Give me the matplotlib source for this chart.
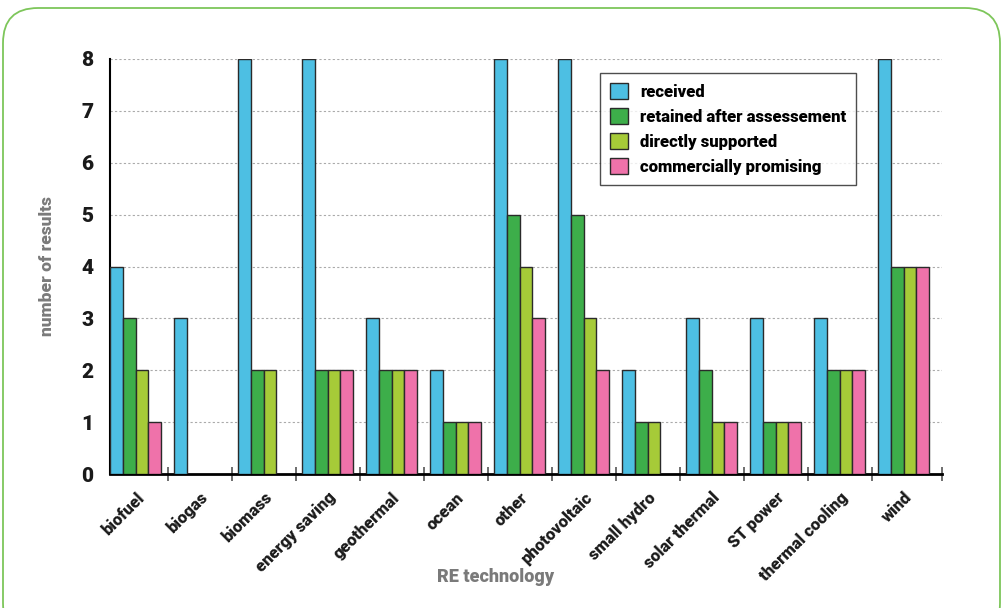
import matplotlib
matplotlib.use("Agg")
import matplotlib.pyplot as plt
import numpy as np
from matplotlib.patches import FancyBboxPatch

categories = ["biofuel", "biogas", "biomass", "energy saving", "geothermal", "ocean",
              "other", "photovoltaic", "small hydro", "solar thermal", "ST power",
              "thermal cooling", "wind"]
received = [4, 3, 8, 8, 3, 2, 8, 8, 2, 3, 3, 3, 8]
retained = [3, 0, 2, 2, 2, 1, 5, 5, 1, 2, 1, 2, 4]
supported = [2, 0, 2, 2, 2, 1, 4, 3, 1, 1, 1, 2, 4]
promising = [1, 0, 0, 2, 2, 1, 3, 2, 0, 1, 1, 2, 4]
series_names = ["received", "retained after assessement", "directly supported",
                "commercially promising"]
colors = ["#4dbfe3", "#3dae4a", "#a6cb38", "#ef72aa"]

plt.rcParams["font.family"] = ["Roboto", "DejaVu Sans"]
plt.rcParams["font.weight"] = "heavy"
BOLD = "heavy"

W, H = 1001, 608
fig = plt.figure(figsize=(W / 100, H / 100), dpi=100)
# rounded green frame around the whole figure
fig.patches.append(FancyBboxPatch((3 / W, -30 / H), 997 / W, (H - 8 + 30) / H,
                                  boxstyle="round,pad=0,rounding_size=0.035",
                                  transform=fig.transFigure, fill=False,
                                  edgecolor="#7dc65a", linewidth=1.3,
                                  mutation_aspect=W / H, clip_on=False))
ax = fig.add_axes([110 / W, 1 - 474 / H, 832 / W, 415 / H])

x = np.arange(len(categories))
w = 0.2
for k, (vals, name, c) in enumerate(zip([received, retained, supported, promising],
                                         series_names, colors)):
    ax.bar(x + 0.1 + k * w, vals, w, color=c, edgecolor="#2a2a2a", linewidth=1.0,
           label=name, zorder=3)

ax.set_xlim(0, 13)
ax.set_ylim(0, 8)
ax.set_yticks(range(9))
ax.yaxis.grid(True, linestyle=(0, (2, 2)), color="#aaaaaa", linewidth=0.8, zorder=0)
for s in ["top", "right"]:
    ax.spines[s].set_visible(False)
ax.spines["left"].set_linewidth(1.5)
ax.spines["bottom"].set_linewidth(2)
ax.tick_params(axis="y", length=0, labelsize=15, pad=12, labelcolor="#1a1a1a")
for t in ax.get_yticklabels():
    t.set_fontweight(BOLD)

ax.set_xticks(x + 0.4)
ax.set_xticklabels(categories, rotation=45, ha="right", rotation_mode="anchor",
                   fontsize=12, fontweight=BOLD, color="#1a1a1a")
ax.tick_params(axis="x", which="major", length=0, pad=11)
ax.set_xticks(list(np.arange(12) + 0.9) + [13], minor=True)
ax.tick_params(axis="x", which="minor", direction="inout", length=10, width=1.2,
               color="#555555")

fig.text(47 / W, 1 - 266 / H, "number of results", rotation=90, ha="center",
         va="center", fontsize=12.5, fontweight=BOLD, color="#7a7a7a")
fig.text(496 / W, 1 - 577 / H, "RE technology", ha="center", va="center",
         fontsize=13, fontweight=BOLD, color="#7a7a7a")

leg = ax.legend(loc="upper left", bbox_to_anchor=((600 - 110) / 832, (474 - 73) / 415),
                prop={"size": 12, "weight": BOLD}, frameon=True, fancybox=False,
                edgecolor="#222222", handlelength=1.1, handleheight=1.1,
                borderpad=0.6, labelspacing=0.5, handletextpad=0.7, borderaxespad=0)
leg.get_frame().set_linewidth(1.0)
leg.set_zorder(5)

fig.savefig("out.png", dpi=100)
